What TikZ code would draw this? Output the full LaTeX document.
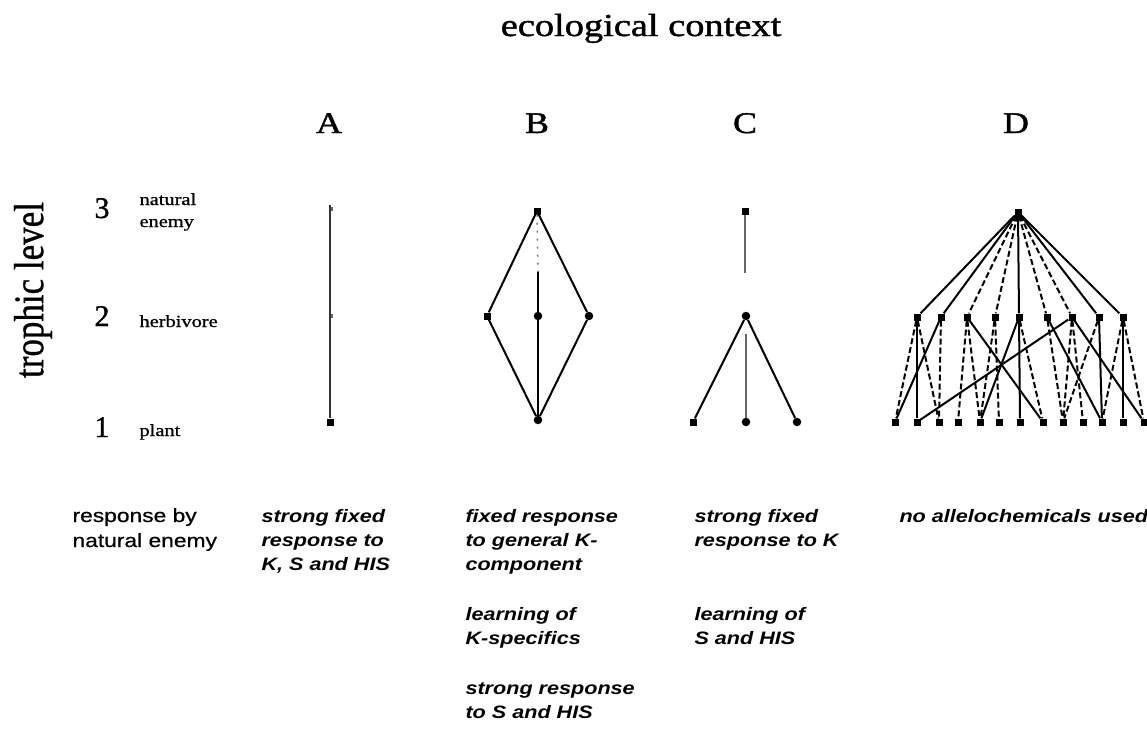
\documentclass[tikz,border=0pt]{standalone}
\usepackage{fontspec}
\setmainfont{Liberation Serif}
\newfontfamily\sansf{Liberation Sans}
\newfontfamily\hserif[FakeBold=1.2]{Liberation Serif}
\newfontfamily\lserif[FakeBold=0.8]{Liberation Serif}
\newfontfamily\hsans[FakeBold=0.6]{Liberation Sans}
\usepackage{graphicx}
\newcommand\hx[1]{\scalebox{1.2}[1]{#1}}
\newcommand\blk[1]{\hx{\begin{tabular}[t]{@{}l@{}}#1\end{tabular}}}
\begin{document}
\begin{tikzpicture}[x=1pt,y=-1pt,
  sq/.style={rectangle,fill=black,inner sep=0pt,minimum size=7pt},
  rd/.style={circle,fill=black,inner sep=0pt,minimum size=8.5pt},
  tick/.style={rectangle,fill=black!60,inner sep=0pt,minimum width=2.5pt,minimum height=4pt},
  ln/.style={line width=2pt,black},
  gl/.style={line width=2pt,black!60},
  dl/.style={line width=2pt,black,dash pattern=on 6pt off 3pt},
  dt/.style={line width=1.5pt,black!55,dash pattern=on 2pt off 6pt},
  big/.style={font=\fontsize{30}{34}\hserif},
  small/.style={font=\fontsize{17}{22}\lserif},
  resp/.style={font=\fontsize{18}{24}\selectfont\sansf\bfseries\itshape}
]
\useasboundingbox (0,0) rectangle (1147,728);

% headings
\node[anchor=base] (title) at (641,36) {\fontsize{32}{36}\hserif\hx{ecological context}};
\node[anchor=base,big] (hA) at (329,133) {\hx{A}};
\node[anchor=base,big] (hB) at (537,133) {\hx{B}};
\node[anchor=base,big] (hC) at (745,133) {\hx{C}};
\node[anchor=base,big] (hD) at (1016,133) {\hx{D}};

% trophic axis
\node[rotate=90] (tl) at (33,290) {\fontsize{35}{40}\lserif\scalebox{1}[1.2]{trophic level}};
\node[anchor=base,big] (n3) at (102,218) {3};
\node[anchor=base,big] (n2) at (102,326) {2};
\node[anchor=base,big] (n1) at (102,437) {1};
\node[anchor=base west,small] (l3) at (136,205) {\blk{natural\\enemy}};
\node[anchor=base west,small] (l2) at (136,327) {\hx{herbivore}};
\node[anchor=base west,small] (l1) at (136,436) {\hx{plant}};

% panel A
\node[sq] (A1) at (330,422) {};
\coordinate (A3) at (330,205);
\node[tick] (A3t) at (332,209) {};
\node[tick] (A2) at (332,316) {};
\draw[ln,black!80] (A3) -- (A1);

% panel B
\node[sq] (B3) at (537,211) {};
\node[sq] (B2l) at (487,316) {};
\node[rd] (B2c) at (538,316) {};
\node[rd] (B2r) at (589,316) {};
\node[rd] (B1) at (538,420) {};
\coordinate (Bg) at (538,272);
\draw[ln] (B3) -- (B2l) -- (B1) -- (B2r);
\draw[ln] (B3) -- (B2r);
\draw[dt] (B3) -- (Bg);
\draw[ln] (Bg) -- (B2c);
\draw[ln] (B2c) -- (B1);

% panel C
\node[sq] (C3) at (745,211) {};
\coordinate (Cg) at (745,273);
\node[rd] (C2) at (746,316) {};
\node[sq] (C1l) at (693,422) {};
\node[rd] (C1c) at (746,422) {};
\node[rd] (C1r) at (797,422) {};
\draw[gl] (C3) -- (Cg);
\draw[ln] (C2) -- (C1l);
\draw[ln] (C2) -- (C1r);
\draw[gl,shorten <=14pt] (C2) -- (C1c);

% panel D
\node[sq] (T) at (1018,212) {};
\foreach \i/\x in {1/917,2/941,3/967,4/995,5/1019,6/1047,7/1072,8/1099,9/1123}
  \node[sq] (M\i) at (\x,317) {};
\foreach \i/\x in {1/895,2/917,3/939,4/958,5/980,6/999,7/1020,8/1043,9/1063,10/1083,11/1102,12/1123,13/1144}
  \node[sq] (L\i) at (\x,422) {};
\foreach \i in {1,2,5,8,9} \draw[ln] (T) -- (M\i);
\foreach \i in {3,4,6,7} \draw[dl] (T) -- (M\i);
% lower solid
\foreach \a/\b in {1/2,2/1,3/8,5/5,5/7,6/11,7/2,7/13,8/11,9/12}
  \draw[ln] (M\a) -- (L\b);
% lower dashed
\foreach \a/\b in {1/1,1/3,2/3,3/4,3/5,4/5,4/6,5/8,6/9,7/9,7/10,8/9,9/11,9/13}
  \draw[dl] (M\a) -- (L\b);

% responses
\node[anchor=base west,font=\fontsize{19}{25}\hsans] (rn) at (69,522) {\blk{response by\\natural enemy}};
\node[anchor=base west,resp] (rA) at (258,522) {\blk{strong fixed\\response to\\K, S and HIS}};
\node[anchor=base west,resp] (rB1) at (462,522) {\blk{fixed response\\to general K-\\component}};
\node[anchor=base west,resp] (rB2) at (462,620) {\blk{learning of\\K-specifics}};
\node[anchor=base west,resp] (rB3) at (462,694) {\blk{strong response\\to S and HIS}};
\node[anchor=base west,resp] (rC1) at (691,522) {\blk{strong fixed\\response to K}};
\node[anchor=base west,resp] (rC2) at (691,620) {\blk{learning of\\S and HIS}};
\node[anchor=base west,resp] (rD) at (896,522) {\hx{no allelochemicals used}};
\end{tikzpicture}
\end{document}
